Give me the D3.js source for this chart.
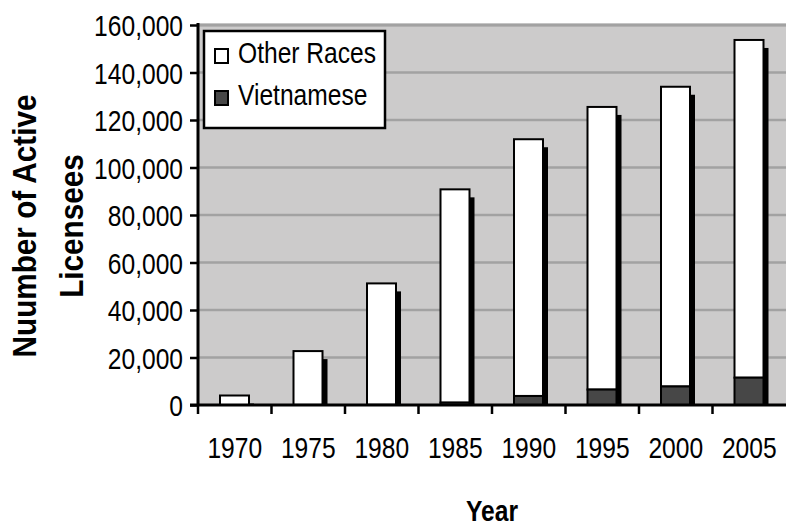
<!DOCTYPE html>
<html>
<head>
<meta charset="utf-8">
<script src="https://cdn.jsdelivr.net/npm/d3@7"></script>
<style>
  html, body { margin: 0; padding: 0; background: #fff; }
  svg { display: block; }
  .narrow { font-family: "Liberation Sans", Arial, sans-serif; }
</style>
</head>
<body>
<svg id="chart" width="786" height="527"></svg>
<script>
const years = ["1970", "1975", "1980", "1985", "1990", "1995", "2000", "2005"];
const vietnamese = [0, 50, 100, 1000, 3800, 6500, 7800, 11500];
const otherRaces = [4000, 22650, 51100, 89800, 108100, 119000, 126200, 142200];
const yTicks = [0, 20000, 40000, 60000, 80000, 100000, 120000, 140000, 160000];
const seriesNames = ["Other Races", "Vietnamese"];
const seriesColors = ["#ffffff", "#474747"];

const W = 786, H = 527;
const plot = { left: 198, right: 786, top: 25, bottom: 405 };
const SX = 0.82; // horizontal condensing to mimic a narrow face

const svg = d3.select("#chart");

const x = d3.scaleBand().domain(years).range([plot.left, plot.right]).padding(0);
const y = d3.scaleLinear().domain([0, 160000]).range([plot.bottom, plot.top]);

// plot background
svg.append("rect")
  .attr("x", plot.left).attr("y", plot.top)
  .attr("width", plot.right - plot.left).attr("height", plot.bottom - plot.top)
  .attr("fill", "#cccbcb");

// gridlines
svg.append("g").selectAll("line")
  .data(yTicks.filter(d => d > 0))
  .join("line")
  .attr("x1", plot.left).attr("x2", plot.right)
  .attr("y1", d => y(d)).attr("y2", d => y(d))
  .attr("stroke", "#a2a2a2").attr("stroke-width", 2.5);

const rows = years.map((yr, i) => ({ year: yr, viet: vietnamese[i], other: otherRaces[i], total: vietnamese[i] + otherRaces[i] }));

const barOffset = 22, barW = 29, shOffX = 5, shOffY = 8;

// shadows
svg.append("g").selectAll("rect")
  .data(rows)
  .join("rect")
  .attr("x", d => x(d.year) + barOffset + barW)
  .attr("y", d => y(d.total) + shOffY)
  .attr("width", shOffX)
  .attr("height", d => y(0) - y(d.total) - shOffY)
  .attr("fill", "#000");

// other races segment
svg.append("g").selectAll("rect")
  .data(rows)
  .join("rect")
  .attr("x", d => x(d.year) + barOffset)
  .attr("y", d => y(d.total))
  .attr("width", barW)
  .attr("height", d => y(d.viet) - y(d.total))
  .attr("fill", seriesColors[0])
  .attr("stroke", "#000").attr("stroke-width", 2);

// vietnamese segment
svg.append("g").selectAll("rect")
  .data(rows.filter(d => d.viet >= 500))
  .join("rect")
  .attr("x", d => x(d.year) + barOffset)
  .attr("y", d => y(d.viet))
  .attr("width", barW)
  .attr("height", d => y(0) - y(d.viet))
  .attr("fill", seriesColors[1])
  .attr("stroke", "#000").attr("stroke-width", 2);

// top border of plot
svg.append("line")
  .attr("x1", plot.left).attr("x2", plot.right)
  .attr("y1", plot.top).attr("y2", plot.top)
  .attr("stroke", "#a2a2a2").attr("stroke-width", 3);

// Y axis
const yAxis = d3.axisLeft(y).tickValues(yTicks).tickFormat(d3.format(",")).tickSize(8).tickPadding(7);
const gy = svg.append("g").attr("transform", `translate(${plot.left},0)`).call(yAxis);
gy.select(".domain").attr("stroke", "#000").attr("stroke-width", 3).attr("d", `M0,${plot.top - 2}V${plot.bottom}`);
gy.selectAll(".tick line").attr("stroke", "#000").attr("stroke-width", 2.5);
gy.selectAll(".tick text").attr("class", "narrow").attr("font-size", 30).attr("fill", "#000")
  .attr("dy", "0.36em").attr("x", 0).attr("transform", `translate(-15,0) scale(${SX},1)`);

// X axis
const xAxis = d3.axisBottom(x).tickSize(0).tickPadding(0);
const gx = svg.append("g").attr("transform", `translate(0,${plot.bottom})`).call(xAxis);
gx.select(".domain").remove();
gx.selectAll(".tick text").attr("class", "narrow").attr("font-size", 30).attr("fill", "#000")
  .attr("y", 53).attr("dy", 0).attr("transform", `scale(${SX},1)`);
svg.append("line")
  .attr("x1", plot.left - 8).attr("x2", plot.right)
  .attr("y1", plot.bottom).attr("y2", plot.bottom)
  .attr("stroke", "#000").attr("stroke-width", 3);
svg.append("g").selectAll("line")
  .data(years)
  .join("line")
  .attr("x1", d => x(d)).attr("x2", d => x(d))
  .attr("y1", plot.bottom).attr("y2", plot.bottom + 9)
  .attr("stroke", "#000").attr("stroke-width", 2.5);

// axis titles
svg.append("text")
  .attr("class", "narrow")
  .attr("transform", `translate(${(plot.left + plot.right) / 2},521) scale(${SX},1)`)
  .attr("text-anchor", "middle")
  .attr("font-size", 30).attr("font-weight", "bold")
  .text("Year");

const yt = svg.append("text")
  .attr("class", "narrow")
  .attr("transform", `translate(36,226) rotate(-90) scale(0.9,1)`)
  .attr("text-anchor", "middle")
  .attr("font-size", 33).attr("font-weight", "bold");
yt.append("tspan").attr("x", 0).attr("y", 0).text("Nuumber of Active");
yt.append("tspan").attr("x", 0).attr("y", 47).text("Licensees");

// legend
const lg = svg.append("g");
lg.append("rect")
  .attr("x", 204).attr("y", 31).attr("width", 181).attr("height", 97)
  .attr("fill", "#fff").attr("stroke", "#000").attr("stroke-width", 2.5);
const items = lg.selectAll("g.item").data(seriesNames).join("g").attr("class", "item")
  .attr("transform", (d, i) => `translate(215,${49 + i * 42})`);
items.append("rect")
  .attr("width", 13).attr("height", 14)
  .attr("fill", (d, i) => seriesColors[i])
  .attr("stroke", "#000").attr("stroke-width", 2);
items.append("text")
  .attr("class", "narrow")
  .attr("transform", `translate(23,14) scale(${SX},1)`)
  .attr("font-size", 30).attr("fill", "#000")
  .text(d => d);
</script>
</body>
</html>
